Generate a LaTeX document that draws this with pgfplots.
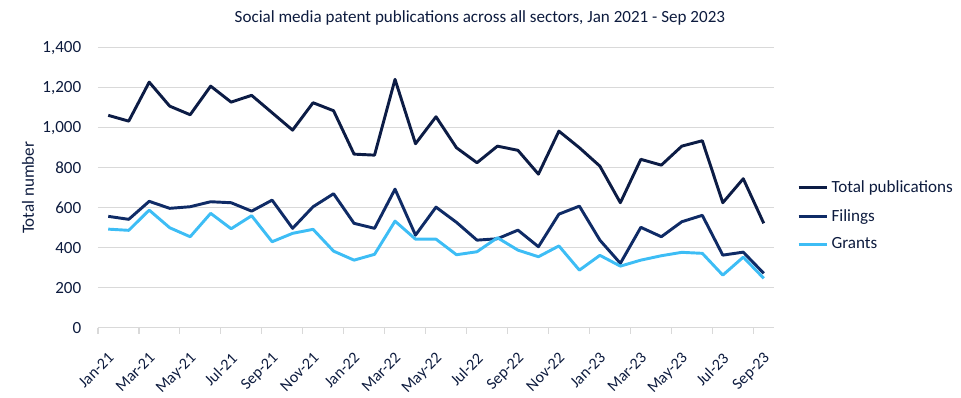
\documentclass[border=0pt]{standalone}
\usepackage{pgfplots}
\pgfplotsset{compat=1.18}
\usepackage{pgfplotstable}
\usepackage{fontspec}
\setmainfont{Carlito}
\definecolor{cTotal}{HTML}{0C1C45}
\definecolor{cFil}{HTML}{0F2B66}
\definecolor{cGra}{HTML}{3DBDF5}
\definecolor{cGrid}{HTML}{D9D9D9}
\definecolor{cText}{HTML}{0D1B3E}
\newcommand{\lblfont}{\fontsize{12.8}{15}\selectfont}
\pgfplotstableread{
x total filings grants
0 1062 557 493
1 1033 542 487
2 1228 632 588
3 1108 597 500
4 1065 605 455
5 1208 630 572
6 1128 625 495
7 1162 583 560
8 1075 638 430
9 988 497 472
10 1125 605 492
11 1085 670 383
12 868 522 338
13 863 497 367
14 1242 693 533
15 920 463 443
16 1055 603 443
17 900 527 365
18 825 438 380
19 908 445 450
20 887 488 388
21 768 405 355
22 983 568 409
23 900 608 288
24 808 438 362
25 625 322 308
26 842 502 338
27 813 455 360
28 908 530 377
29 935 562 372
30 625 363 263
31 745 378 353
32 522 272 247
}\datatable
\begin{document}
\begin{tikzpicture}
\begin{axis}[
  scale only axis,
  width=507pt, height=210pt,
  xmin=-0.5, xmax=32.5,
  ymin=0, ymax=1400,
  ytick={0,200,...,1400},
  xtick={0,2,...,32},
  xticklabels={Jan-21,Mar-21,May-21,Jul-21,Sep-21,Nov-21,Jan-22,Mar-22,May-22,Jul-22,Sep-22,Nov-22,Jan-23,Mar-23,May-23,Jul-23,Sep-23},
  minor xtick={-0.5,1.5,...,31.5},
  major tick length=0pt,
  minor tick length=4.5pt,
  tick align=outside,
  minor tick style={cGrid, line width=0.8pt},
  axis x line*=bottom,
  axis y line*=left,
  y axis line style={draw=none},
  x axis line style={cGrid, line width=0.8pt, -},
  ymajorgrids,
  grid style={cGrid, line width=0.8pt},
  /pgf/number format/assume math mode=true,
  /pgf/number format/1000 sep={,},
  tick label style={font=\lblfont},
  yticklabel style={text=cText, anchor=east, xshift=-9pt},
  xticklabel style={font=\fontsize{12}{14}\selectfont, text=cText, rotate=45, anchor=north east, inner sep=1pt, yshift=-11pt, xshift=-12pt},
  ylabel={Total number},
  ylabel style={font=\lblfont, text=cText, at={(axis description cs:-0.1036,0.5)}, anchor=center},
  title={Social media patent publications across all sectors, Jan 2021 - Sep 2023},
  title style={font=\lblfont, text=cText, at={(axis description cs:0.565,1.078)}, anchor=center},
  legend style={draw=none, fill=none, at={(axis description cs:1.034,0.40)}, anchor=west,
    font=\lblfont, text=cText, row sep=7pt, inner sep=0pt},
  legend cell align=left,
  legend image code/.code={\draw[#1] (0pt,0pt) -- (21.5pt,0pt);},
  every axis plot/.append style={line width=2.2pt, line join=round},
]
\addplot[cTotal, mark=none] table[x=x, y=total] {\datatable};
\addlegendentry{Total publications}
\addplot[cFil, mark=none] table[x=x, y=filings] {\datatable};
\addlegendentry{Filings}
\addplot[cGra, mark=none] table[x=x, y=grants] {\datatable};
\addlegendentry{Grants}
\end{axis}
\pgfresetboundingbox
\path[use as bounding box] (-73.5pt,-52pt) rectangle (647.25pt,245.8pt);
\end{tikzpicture}
\end{document}
